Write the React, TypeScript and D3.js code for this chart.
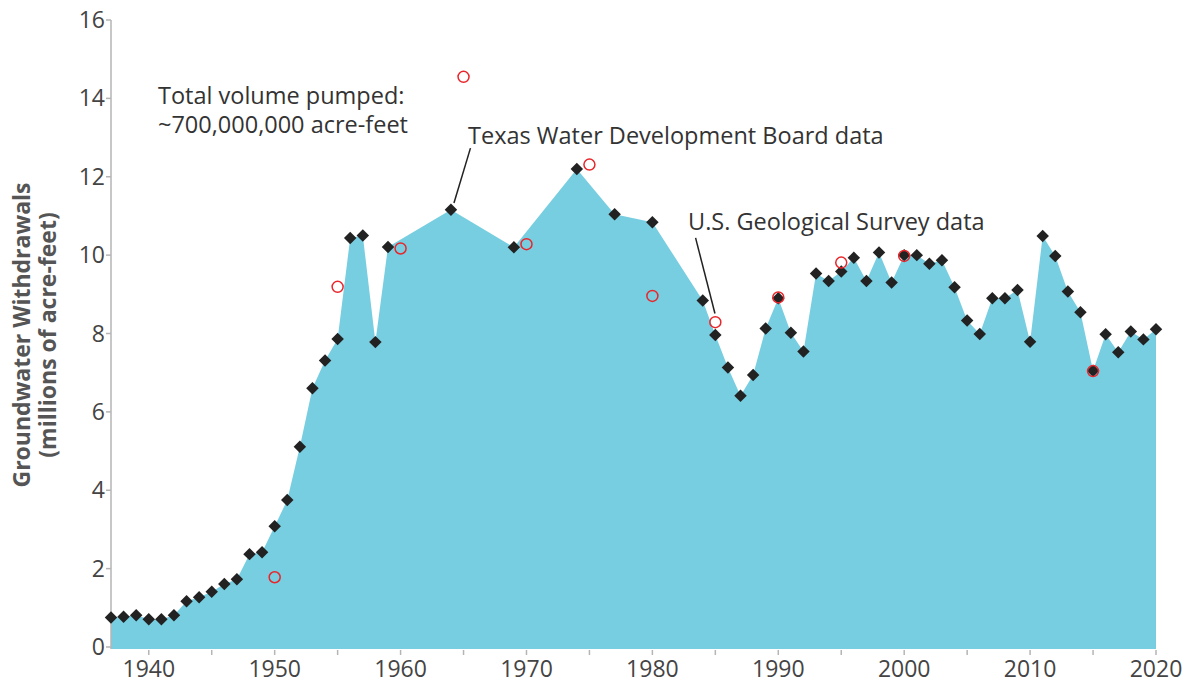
import * as d3 from "d3";

// Texas Water Development Board yearly estimates (millions of acre-feet)
const twdbYears = [
  1937, 1938, 1939, 1940, 1941, 1942, 1943, 1944, 1945, 1946, 1947, 1948, 1949,
  1950, 1951, 1952, 1953, 1954, 1955, 1956, 1957, 1958, 1959, 1964, 1969, 1974,
  1977, 1980, 1984, 1985, 1986, 1987, 1988, 1989, 1990, 1991, 1992, 1993, 1994,
  1995, 1996, 1997, 1998, 1999, 2000, 2001, 2002, 2003, 2004, 2005, 2006, 2007,
  2008, 2009, 2010, 2011, 2012, 2013, 2014, 2015, 2016, 2017, 2018, 2019, 2020,
];
const twdbValues = [
  0.75, 0.77, 0.81, 0.71, 0.71, 0.81, 1.17, 1.27, 1.41, 1.61, 1.73, 2.37, 2.42,
  3.08, 3.75, 5.11, 6.6, 7.31, 7.86, 10.44, 10.5, 7.78, 10.21, 11.16, 10.2, 12.2,
  11.04, 10.84, 8.84, 7.96, 7.13, 6.41, 6.94, 8.13, 8.9, 8.02, 7.54, 9.53, 9.34,
  9.58, 9.93, 9.34, 10.07, 9.3, 10.0, 10.0, 9.78, 9.87, 9.18, 8.33, 7.99, 8.9,
  8.9, 9.11, 7.79, 10.49, 9.98, 9.07, 8.54, 7.05, 7.98, 7.52, 8.05, 7.85, 8.11,
];

// U.S. Geological Survey five-year estimates
const usgsYears = [1950, 1955, 1960, 1965, 1970, 1975, 1980, 1985, 1990, 1995, 2000, 2015];
const usgsValues = [1.78, 9.19, 10.17, 14.55, 10.28, 12.31, 8.96, 8.29, 8.92, 9.81, 9.98, 7.04];

const yTicks = [0, 2, 4, 6, 8, 10, 12, 14, 16];
const xLabelTicks = [1940, 1950, 1960, 1970, 1980, 1990, 2000, 2010, 2020];
const xMinorTicks = [1945, 1955, 1965, 1975, 1985, 1995, 2005, 2015];

const width = 1193;
const height = 687;
const font = "'Open Sans', sans-serif";

export default function App() {
  const x = d3.scaleLinear([1937, 2020], [111, 1156]);
  const y = d3.scaleLinear([0, 16], [647, 20]);

  const twdb = twdbYears.map((yr, i) => ({ yr, v: twdbValues[i] }));
  const usgs = usgsYears.map((yr, i) => ({ yr, v: usgsValues[i] }));

  const area = d3.area<{ yr: number; v: number }>()
    .x((d) => x(d.yr))
    .y0(y(0) + 2)
    .y1((d) => y(d.v));

  const diamond = d3.symbol(d3.symbolSquare, 78)();

  return (
    <svg
      width={width}
      height={height}
      style={{ position: "absolute", left: 0, top: 0, background: "#fff" }}
      fontFamily={font}
    >
      <path d={area(twdb) ?? undefined} fill="#78cee1" />

      {/* y axis */}
      <line x1={x(1937)} x2={x(1937)} y1={y(16)} y2={y(0) + 2} stroke="#b5b5b5" strokeWidth={1.5} />
      {yTicks.map((t) => (
        <g key={t} transform={`translate(0,${y(t)})`}>
          <line x1={x(1937) - 5} x2={x(1937)} stroke="#b5b5b5" strokeWidth={1.5} />
          <text x={x(1937) - 6} dy="0.35em" textAnchor="end" fontSize={23} fill="#444">
            {t}
          </text>
        </g>
      ))}

      {/* x axis ticks */}
      {xLabelTicks.map((t) => (
        <g key={t} transform={`translate(${x(t)},0)`}>
          <line y1={y(0) + 3} y2={y(0) + 8} stroke="#b5b5b5" strokeWidth={1.5} />
          <text y={677} textAnchor="middle" fontSize={23} fill="#444">
            {t}
          </text>
        </g>
      ))}
      {xMinorTicks.map((t) => (
        <line key={t} x1={x(t)} x2={x(t)} y1={y(0) + 3} y2={y(0) + 8} stroke="#b5b5b5" strokeWidth={1.5} />
      ))}

      {/* y axis title */}
      <g transform="translate(30,335) rotate(-90)" fontSize={23} fontWeight="bold" fill="#555" textAnchor="middle">
        <text>Groundwater Withdrawals</text>
        <text y={26}>(millions of acre-feet)</text>
      </g>

      {/* annotation leader lines */}
      <line x1={x(1965.55)} y1={y(12.73)} x2={x(1964.24)} y2={y(11.33)} stroke="#222" strokeWidth={1.5} />
      <line x1={x(1983.43)} y1={y(10.44)} x2={x(1984.97)} y2={y(8.51)} stroke="#222" strokeWidth={1.5} />

      {/* TWDB diamonds */}
      {twdb.map((d) => (
        <path
          key={d.yr}
          d={diamond ?? undefined}
          transform={`translate(${x(d.yr)},${y(d.v)}) rotate(45)`}
          fill="#222"
        />
      ))}

      {/* USGS circles */}
      {usgs.map((d) => (
        <circle key={d.yr} cx={x(d.yr)} cy={y(d.v)} r={5.5} fill="none" stroke="#e8262b" strokeWidth={1.5} />
      ))}

      {/* annotations */}
      <g fontSize={23.5} fill="#333">
        <text x={158} y={104}>Total volume pumped:</text>
        <text x={158} y={133}>~700,000,000 acre-feet</text>
        <text x={468} y={144}>Texas Water Development Board data</text>
        <text x={688} y={230}>U.S. Geological Survey data</text>
      </g>
    </svg>
  );
}
